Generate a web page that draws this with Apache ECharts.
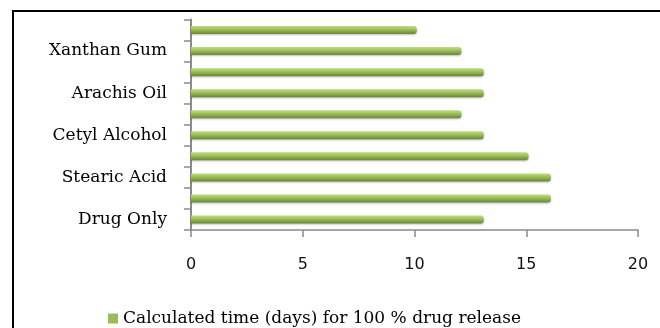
<!DOCTYPE html>
<html>
<head>
<meta charset="utf-8">
<script src="https://cdn.jsdelivr.net/npm/echarts@6/dist/echarts.min.js"></script>
<style>
html,body{margin:0;padding:0;background:#fff;}
#chart{width:660px;height:328px;}
</style>
</head>
<body>
<div id="chart"></div>
<script>
// categories listed bottom to top (only every other one is labelled in the source)
var categories = ['Drug Only', '', 'Stearic Acid', '', 'Cetyl Alcohol', '', 'Arachis Oil', '', 'Xanthan Gum', ''];
var values = [13.1, 16.1, 16.1, 15.1, 13.1, 12.1, 13.1, 13.1, 12.1, 10.1];
var seriesName = 'Calculated time (days) for 100 % drug release';
var xTicks = { min: 0, max: 20, interval: 5 };

var chart = echarts.init(document.getElementById('chart'), null, { renderer: 'canvas' });
chart.setOption({
  animation: false,
  backgroundColor: '#ffffff',
  graphic: [{
    type: 'polyline',
    shape: { points: [[13, 340], [13, 11], [670, 11]] },
    style: { fill: null, stroke: '#000', lineWidth: 2 },
    silent: true
  }],
  grid: { left: 191, right: 22, top: 19.5, height: 210.5 },
  legend: {
    data: [seriesName],
    left: 103,
    top: 305,
    icon: 'rect',
    itemWidth: 10,
    itemHeight: 10,
    itemGap: 6,
    itemStyle: { color: '#9bbb59', shadowBlur: 0, shadowOffsetY: 0 },
    textStyle: { fontFamily: 'DejaVu Serif', fontSize: 17, color: '#000' }
  },
  xAxis: {
    type: 'value',
    min: xTicks.min,
    max: xTicks.max,
    interval: xTicks.interval,
    axisLine: { show: true, lineStyle: { color: '#8a8a8a', width: 1.5 } },
    axisTick: { show: true, length: 7, lineStyle: { color: '#8a8a8a', width: 1.5 } },
    splitLine: { show: false },
    axisLabel: { margin: 27, fontFamily: 'DejaVu Sans', fontSize: 16, color: '#111' }
  },
  yAxis: {
    type: 'category',
    data: categories,
    axisLine: { show: true, lineStyle: { color: '#8a8a8a', width: 2 } },
    axisTick: { show: true, length: 7, lineStyle: { color: '#8a8a8a', width: 1.5 } },
    axisLabel: { interval: 0, margin: 24, fontFamily: 'DejaVu Serif', fontSize: 17, color: '#000' }
  },
  series: [{
    name: seriesName,
    type: 'bar',
    data: values,
    barWidth: 8,
    itemStyle: {
      color: new echarts.graphic.LinearGradient(0, 0, 0, 1, [
        { offset: 0, color: '#c2dd86' },
        { offset: 0.4, color: '#9fc25c' },
        { offset: 1, color: '#6a8732' }
      ]),
      borderRadius: [0, 3, 3, 0],
      shadowColor: 'rgba(0,0,0,0.25)',
      shadowBlur: 2,
      shadowOffsetY: 1
    }
  }]
});
</script>
</body>
</html>
